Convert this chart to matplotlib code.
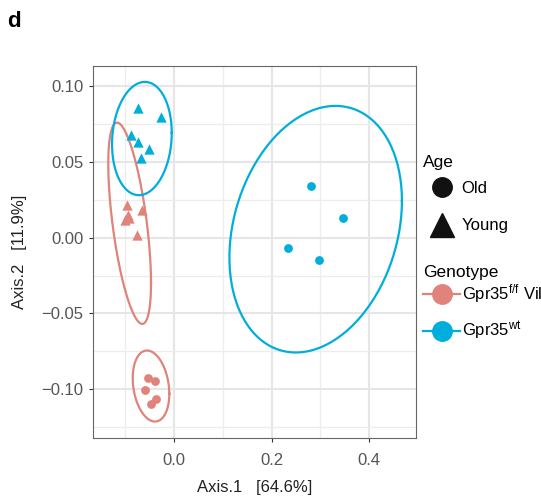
import numpy as np
import matplotlib
matplotlib.use("Agg")
import matplotlib.pyplot as plt
from matplotlib.lines import Line2D

plt.rcParams['font.family'] = ['Liberation Sans', 'DejaVu Sans']
plt.rcParams['mathtext.fontset'] = 'custom'
plt.rcParams['mathtext.rm'] = 'Liberation Sans'
plt.rcParams['mathtext.it'] = 'Liberation Sans:italic'

RED = '#E0837A'
BLUE = '#00AEDB'

# PCoA coordinates
ff_old_x = [-0.054, -0.040, -0.059, -0.038, -0.047]
ff_old_y = [-0.0922, -0.0944, -0.1005, -0.1065, -0.1096]
ff_young_x = [-0.097, -0.095, -0.100, -0.092, -0.066, -0.076]
ff_young_y = [0.0213, 0.0150, 0.0114, 0.0130, 0.0180, 0.0018]
wt_old_x = [0.280, 0.347, 0.234, 0.298]
wt_old_y = [0.0339, 0.0132, -0.0071, -0.0147]
wt_young_x = [-0.073, -0.027, -0.089, -0.074, -0.051, -0.067]
wt_young_y = [0.0856, 0.0797, 0.0673, 0.0632, 0.0581, 0.0523]

# ellipses: centre x, centre y, half x-extent, half y-extent, correlation
ell_ff_old = (-0.0472, -0.0978, 0.0375, 0.0234, -0.22)
ell_ff_young = (-0.0910, 0.0094, 0.0438, 0.0663, -0.59)
ell_wt_old = (0.2903, 0.0055, 0.1768, 0.0812, 0.23)
ell_wt_young = (-0.0659, 0.0652, 0.0612, 0.0373, 0.10)

x_ticks = [0.0, 0.2, 0.4]
y_ticks = [-0.10, -0.05, 0.00, 0.05, 0.10]
y_labels = ['\u22120.10', '\u22120.05', '0.00', '0.05', '0.10']


def ellipse_xy(cx, cy, sx, sy, rho, n=200):
    t = np.linspace(0, 2 * np.pi, n)
    cov = np.array([[sx * sx, rho * sx * sy], [rho * sx * sy, sy * sy]])
    L = np.linalg.cholesky(cov)
    pts = L @ np.vstack([np.cos(t), np.sin(t)])
    return cx + pts[0], cy + pts[1]


fig = plt.figure(figsize=(5.41, 4.96), dpi=100)
ax = fig.add_axes([0.172, 0.117, 0.597, 0.750])

for e, c in [(ell_ff_old, RED), (ell_ff_young, RED),
             (ell_wt_old, BLUE), (ell_wt_young, BLUE)]:
    ex, ey = ellipse_xy(*e)
    ax.plot(ex, ey, color=c, lw=1.6, zorder=3)

ax.scatter(ff_old_x, ff_old_y, s=40, marker='o', color=RED, lw=0, zorder=4)
ax.scatter(wt_old_x, wt_old_y, s=40, marker='o', color=BLUE, lw=0, zorder=4)
ax.scatter(ff_young_x, ff_young_y, s=55, marker='^', color=RED, lw=0, zorder=4)
ax.scatter(wt_young_x, wt_young_y, s=55, marker='^', color=BLUE, lw=0, zorder=4)

ax.set_xlim(-0.166, 0.496)
ax.set_ylim(-0.132, 0.113)
ax.set_xticks(x_ticks)
ax.set_xticklabels(['0.0', '0.2', '0.4'])
ax.set_yticks(y_ticks)
ax.set_yticklabels(y_labels)
ax.set_xticks([-0.1, 0.1, 0.3], minor=True)
ax.set_yticks([-0.125, -0.075, -0.025, 0.025, 0.075], minor=True)
ax.grid(which='major', color='#E6E6E6', lw=1.5, zorder=0)
ax.grid(which='minor', color='#EDEDED', lw=0.9, zorder=0)
ax.set_axisbelow(True)
ax.tick_params(which='major', direction='out', length=3, width=0.8,
               color='#333333', labelcolor='#555555', labelsize=12, pad=4)
ax.tick_params(axis='x', which='major', pad=7.5)
ax.tick_params(which='minor', length=0)
for sp in ax.spines.values():
    sp.set_color('#666666')
    sp.set_linewidth(0.8)

ax.set_xlabel('Axis.1   [64.6%]', fontsize=12, color='#222222', labelpad=9)
ax.set_ylabel('Axis.2   [11.9%]', fontsize=12, color='#222222', labelpad=10)

fig.text(0.013, 0.957, 'd', fontsize=16, fontweight='bold', va='center')

age_handles = [
    Line2D([], [], ls='none', marker='o', color='#111111', markersize=14),
    Line2D([], [], ls='none', marker='^', color='#111111', markersize=17),
]
leg1 = fig.legend(age_handles, ['Old', 'Young'], title='Age', loc='upper left',
                  bbox_to_anchor=(0.77, 0.701), frameon=False, fontsize=12,
                  title_fontsize=12.5, alignment='left', handlelength=2.2,
                  handletextpad=0.1, labelspacing=1.34, borderaxespad=0)
leg1._legend_box.sep = 8

geno_handles = [
    Line2D([], [], color=RED, lw=1.6, marker='o', markersize=14),
    Line2D([], [], color=BLUE, lw=1.6, marker='o', markersize=14),
]
leg2 = fig.legend(geno_handles, ['Gpr35$^{\\mathrm{f/f}}$ Vil1$^{\\mathrm{Cre}}$',
                                 'Gpr35$^{\\mathrm{wt}}$'],
                  title='Genotype', loc='upper left',
                  bbox_to_anchor=(0.77, 0.479), frameon=False, fontsize=12,
                  title_fontsize=12.5, alignment='left', handlelength=2.2,
                  handletextpad=0.1, labelspacing=0.88, borderaxespad=0)
leg2._legend_box.sep = 1.5

fig.savefig('out.png', dpi=100)
